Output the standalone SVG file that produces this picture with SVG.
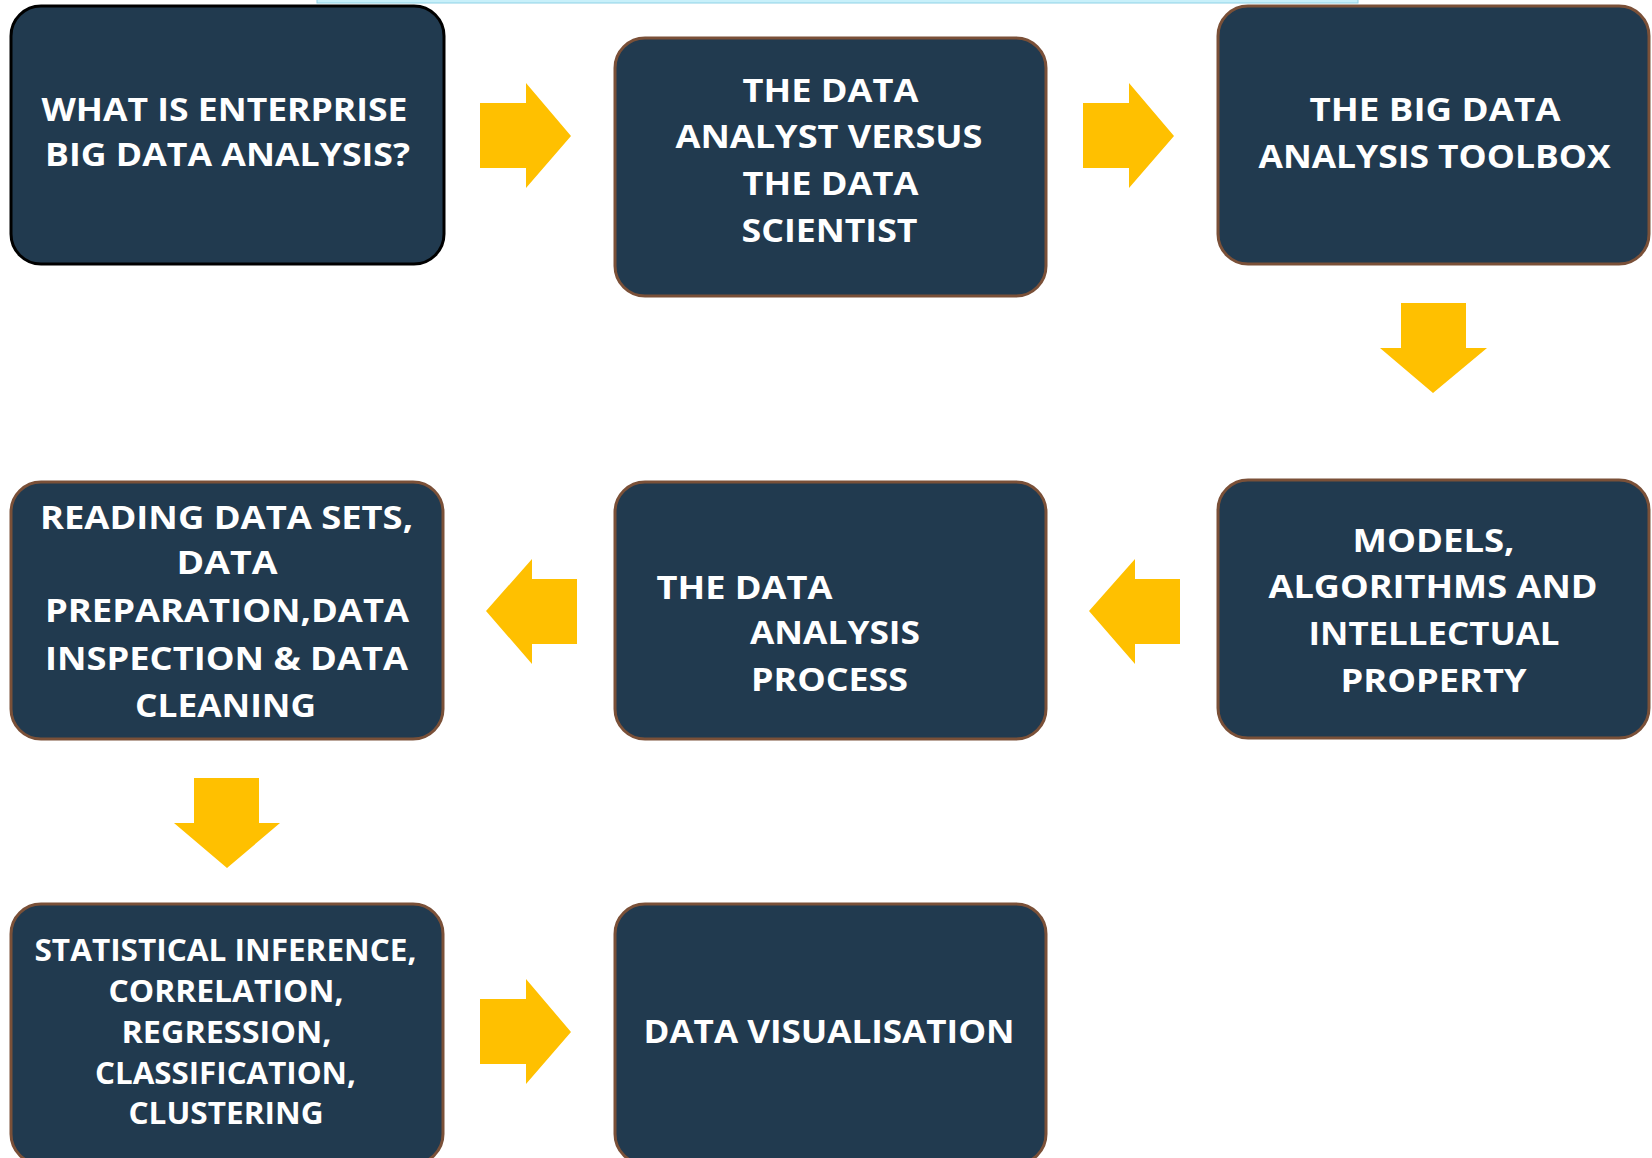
<svg xmlns="http://www.w3.org/2000/svg" width="1652" height="1158" viewBox="0 0 1652 1158">
<style>
.box{fill:#213A4F;stroke:#7A5038;stroke-width:3}
.box1{fill:#213A4F;stroke:#000;stroke-width:3}
.t{fill:#fff;font-family:"Open Sans","Noto Sans","Liberation Sans",sans-serif;font-weight:700;font-size:32px}
.s{font-size:30px}
.arrow{fill:#FFC000}
</style>
<rect width="1652" height="1158" fill="#fff"/>
<rect x="317" y="-2" width="1041" height="5" fill="#C8F0FA" stroke="#8ED2E6" stroke-width="1"/>
<g id="connectors">
<path class="arrow" d="M480,103 H526 V83 L571,136 L526,188 V168 H480 Z"/>
<path class="arrow" d="M1083,103 H1129 V83 L1174,136 L1129,188 V168 H1083 Z"/>
<path class="arrow" d="M1401,303 H1466 V348 H1487 L1433,393 L1380,348 H1401 Z"/>
<path class="arrow" d="M1180,579 H1135 V559 L1089,611 L1135,664 V644 H1180 Z"/>
<path class="arrow" d="M577,579 H532 V559 L486,611 L532,664 V644 H577 Z"/>
<path class="arrow" d="M194,778 H259 V823 H280 L227,868 L174,823 H194 Z"/>
<path class="arrow" d="M480,999 H526 V979 L571,1032 L526,1084 V1064 H480 Z"/>
</g>
<g id="node1">
<rect class="box1" x="11" y="6" width="433" height="258" rx="30"/>
<text class="t" x="41.5" y="121" textLength="366" lengthAdjust="spacingAndGlyphs">WHAT IS ENTERPRISE</text>
<text class="t" x="45" y="166" textLength="365" lengthAdjust="spacingAndGlyphs">BIG DATA ANALYSIS?</text>
</g>
<g id="node2">
<rect class="box" x="615" y="38" width="431" height="258" rx="30"/>
<text class="t" x="742.5" y="102" textLength="176" lengthAdjust="spacingAndGlyphs">THE DATA</text>
<text class="t" x="675.5" y="148" textLength="307" lengthAdjust="spacingAndGlyphs">ANALYST VERSUS</text>
<text class="t" x="742.5" y="195" textLength="176" lengthAdjust="spacingAndGlyphs">THE DATA</text>
<text class="t" x="741.5" y="242" textLength="176" lengthAdjust="spacingAndGlyphs">SCIENTIST</text>
</g>
<g id="node3">
<rect class="box" x="1218" y="6" width="431" height="258" rx="30"/>
<text class="t" x="1309.5" y="121" textLength="251" lengthAdjust="spacingAndGlyphs">THE BIG DATA</text>
<text class="t" x="1258.5" y="168" textLength="352" lengthAdjust="spacingAndGlyphs">ANALYSIS TOOLBOX</text>
</g>
<g id="node4">
<rect class="box" x="1218" y="480" width="431" height="258" rx="30"/>
<text class="t" x="1352.5" y="552" textLength="162" lengthAdjust="spacingAndGlyphs">MODELS,</text>
<text class="t" x="1268.5" y="598" textLength="329" lengthAdjust="spacingAndGlyphs">ALGORITHMS AND</text>
<text class="t" x="1308.5" y="645" textLength="251" lengthAdjust="spacingAndGlyphs">INTELLECTUAL</text>
<text class="t" x="1340.5" y="692" textLength="186" lengthAdjust="spacingAndGlyphs">PROPERTY</text>
</g>
<g id="node5">
<rect class="box" x="615" y="482" width="431" height="257" rx="30"/>
<text class="t" x="656.5" y="599" textLength="176" lengthAdjust="spacingAndGlyphs">THE DATA</text>
<text class="t" x="750" y="644" textLength="170" lengthAdjust="spacingAndGlyphs">ANALYSIS</text>
<text class="t" x="751" y="691" textLength="157" lengthAdjust="spacingAndGlyphs">PROCESS</text>
</g>
<g id="node6">
<rect class="box" x="11" y="482" width="432" height="257" rx="30"/>
<text class="t" x="40" y="529" textLength="373" lengthAdjust="spacingAndGlyphs">READING DATA SETS,</text>
<text class="t" x="176.5" y="574" textLength="101" lengthAdjust="spacingAndGlyphs">DATA</text>
<text class="t" x="45" y="622" textLength="364" lengthAdjust="spacingAndGlyphs">PREPARATION,DATA</text>
<text class="t" x="45" y="670" textLength="363" lengthAdjust="spacingAndGlyphs">INSPECTION &amp; DATA</text>
<text class="t" x="135" y="717" textLength="181" lengthAdjust="spacingAndGlyphs">CLEANING</text>
</g>
<g id="node7">
<rect class="box" x="11" y="904" width="432" height="260" rx="30"/>
<text class="t s" x="34.5" y="961" textLength="382" lengthAdjust="spacingAndGlyphs">STATISTICAL INFERENCE,</text>
<text class="t s" x="108.5" y="1002" textLength="235" lengthAdjust="spacingAndGlyphs">CORRELATION,</text>
<text class="t s" x="121.5" y="1043" textLength="210" lengthAdjust="spacingAndGlyphs">REGRESSION,</text>
<text class="t s" x="95" y="1084" textLength="261" lengthAdjust="spacingAndGlyphs">CLASSIFICATION,</text>
<text class="t s" x="128.5" y="1124" textLength="195" lengthAdjust="spacingAndGlyphs">CLUSTERING</text>
</g>
<g id="node8">
<rect class="box" x="615" y="904" width="431" height="260" rx="30"/>
<text class="t" x="643.5" y="1043" textLength="371" lengthAdjust="spacingAndGlyphs">DATA VISUALISATION</text>
</g>
</svg>
